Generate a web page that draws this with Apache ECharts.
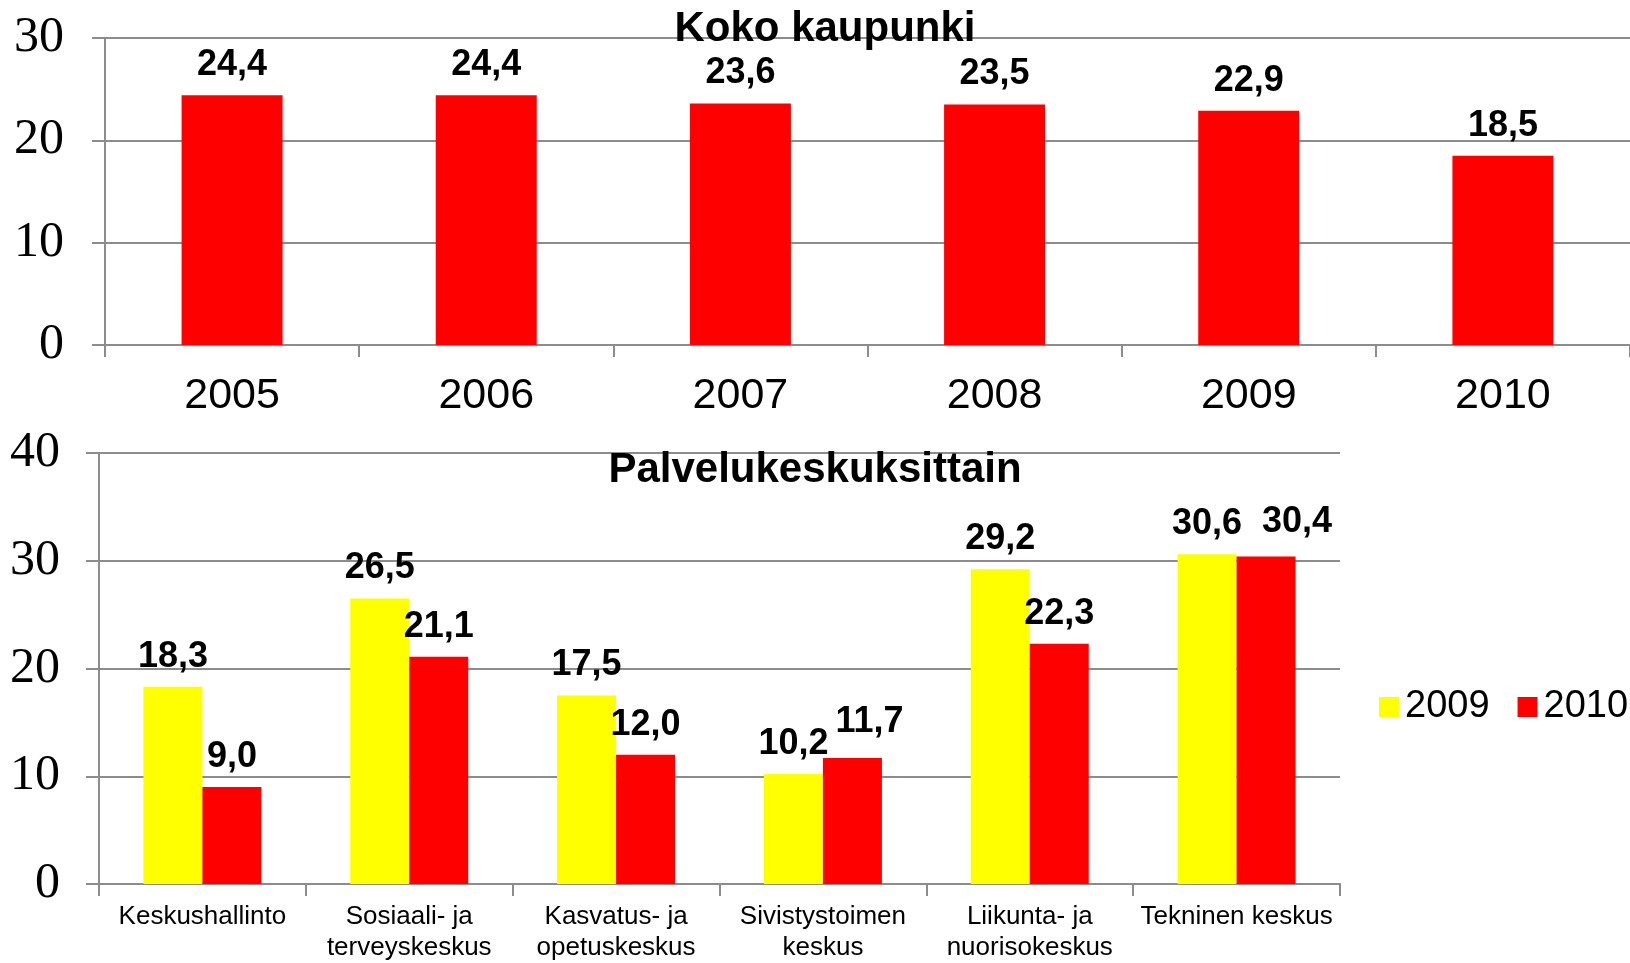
<!DOCTYPE html>
<html>
<head>
<meta charset="utf-8">
<title>Koko kaupunki / Palvelukeskuksittain</title>
<script src="https://cdn.jsdelivr.net/npm/echarts@6/dist/echarts.min.js"></script>
<style>
	html, body { margin: 0; padding: 0; background: #fff; }
	#main { width: 1630px; height: 963px; }
</style>
</head>
<body>
<div id="main"></div>
<script type="text/javascript">

	// koko kaupunki
	var years = ['2005', '2006', '2007', '2008', '2009', '2010'];
	var cityValues = [24.4, 24.4, 23.6, 23.5, 22.9, 18.5];

	// palvelukeskuksittain
	var units = ['Keskushallinto', 'Sosiaali- ja\nterveyskeskus', 'Kasvatus- ja\nopetuskeskus',
		'Sivistystoimen\nkeskus', 'Liikunta- ja\nnuorisokeskus', 'Tekninen keskus'];
	var values2009 = [18.3, 26.5, 17.5, 10.2, 29.2, 30.6];
	var values2010 = [9.0, 21.1, 12.0, 11.7, 22.3, 30.4];

	var sans = "'Liberation Sans', Arial, sans-serif";
	var serif = "'Liberation Serif', 'Times New Roman', serif";
	var gray = '#8c8c8c';

	function fmt(p) {
		return p.value.toFixed(1).replace('.', ',');
	}

	// a few labels are nudged in the original to avoid overlap
	var shift2010 = {3: [17, -6], 5: [31, -4]};

	function withShift(values, shifts) {
		return values.map(function (v, i) {
			if (shifts[i]) return {value: v, label: {offset: shifts[i]}};
			return v;
		});
	}

	var labelStyle = {
		show: true,
		position: 'top',
		distance: 12,
		formatter: fmt,
		fontFamily: sans,
		fontWeight: 'bold',
		fontSize: 36,
		color: '#000'
	};

	var chart = echarts.init(document.getElementById('main'));
	chart.setOption({
		animation: false,
		title: [
			{
				text: 'Koko kaupunki',
				left: 825, top: 8, textAlign: 'center', padding: 0,
				textStyle: {fontFamily: sans, fontWeight: 'bold', fontSize: 42, color: '#000'}
			},
			{
				text: 'Palvelukeskuksittain',
				left: 815, top: 449, textAlign: 'center', padding: 0,
				textStyle: {fontFamily: sans, fontWeight: 'bold', fontSize: 42, color: '#000'}
			}
		],
		legend: {
			data: ['2009', '2010'],
			left: 1379, top: 688, padding: 0,
			itemWidth: 20, itemHeight: 20, itemGap: 28,
			icon: 'rect',
			textStyle: {fontFamily: sans, fontSize: 38, color: '#000', padding: [0, 0, 0, 1]}
		},
		grid: [
			{left: 105, right: 0, top: 38, bottom: 618},
			{left: 99, right: 290, top: 453, bottom: 77}
		],
		xAxis: [
			{
				type: 'category', gridIndex: 0, data: years,
				axisLine: {lineStyle: {color: gray, width: 2}},
				axisTick: {show: true, length: 12, lineStyle: {color: gray, width: 2}},
				axisLabel: {margin: 30, fontFamily: sans, fontSize: 43, color: '#000'}
			},
			{
				type: 'category', gridIndex: 1, data: units,
				axisLine: {lineStyle: {color: gray, width: 2}},
				axisTick: {show: true, length: 12, lineStyle: {color: gray, width: 2}},
				axisLabel: {interval: 0, margin: 17, fontFamily: sans, fontSize: 26, lineHeight: 31, color: '#000'}
			}
		],
		yAxis: [
			{
				type: 'value', gridIndex: 0, min: 0, max: 30, interval: 10,
				axisLine: {show: true, lineStyle: {color: gray, width: 2}},
				axisTick: {show: true, length: 13, lineStyle: {color: gray, width: 2}},
				splitLine: {lineStyle: {color: gray, width: 2}},
				axisLabel: {margin: 41, fontFamily: serif, fontSize: 50, color: '#000'}
			},
			{
				type: 'value', gridIndex: 1, min: 0, max: 40, interval: 10,
				axisLine: {show: true, lineStyle: {color: gray, width: 2}},
				axisTick: {show: true, length: 13, lineStyle: {color: gray, width: 2}},
				splitLine: {lineStyle: {color: gray, width: 2}},
				axisLabel: {margin: 39, fontFamily: serif, fontSize: 50, color: '#000'}
			}
		],
		series: [
			{
				name: 'Koko kaupunki', type: 'bar', xAxisIndex: 0, yAxisIndex: 0,
				barWidth: 101,
				itemStyle: {color: '#ff0000'},
				label: labelStyle,
				data: cityValues
			},
			{
				name: '2009', type: 'bar', xAxisIndex: 1, yAxisIndex: 1,
				barWidth: 59, barGap: '0%',
				itemStyle: {color: '#ffff00'},
				label: labelStyle,
				data: values2009
			},
			{
				name: '2010', type: 'bar', xAxisIndex: 1, yAxisIndex: 1,
				barWidth: 59, barGap: '0%',
				itemStyle: {color: '#ff0000'},
				label: labelStyle,
				data: withShift(values2010, shift2010)
			}
		]
	});

</script>
</body>
</html>
